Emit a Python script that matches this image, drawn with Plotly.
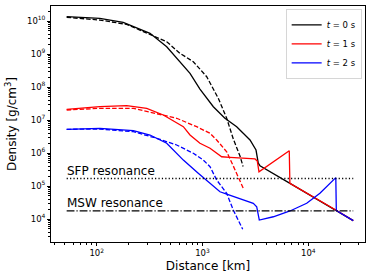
import math
import plotly.graph_objects as go

# ---- data (distance in km, density in g/cm^3) ----
x_t0 = [52, 107, 178, 319, 459, 612, 762, 946, 1266, 1629, 2104, 2812, 3205, 3367, 3493, 6712, 18550, 26600]
y_t0 = [1.35e10, 1.21e10, 9.1e9, 4.24e9, 1.66e9, 5.85e8, 2.60e8, 8.69e7, 2.53e7, 1.13e7, 6.27e6, 2.48e6,
        1.23e6, 4.9e5, 4.12e5, 1.2e5, 1.81e4, 8.9e3]
x_t0_dash = [52, 107, 192, 319, 459, 612, 819, 1096, 1410, 1693, 1955, 2261, 2420]
y_t0_dash = [1.29e10, 1.07e10, 7.9e9, 3.95e9, 2.36e9, 1.05e9, 5.85e8, 2.05e8, 4.55e7, 1.13e7, 2.66e6, 8.1e5, 3.9e5]

x_t1 = [52, 107, 192, 297, 426, 659, 762, 946, 1178, 1518, 1819, 2261, 3134, 3296, 3418, 6610, 6700, 18550, 26600]
y_t1 = [2.11e7, 2.53e7, 2.71e7, 2.26e7, 1.42e7, 6.27e6, 3.51e6, 1.97e6, 1.39e6, 7.7e5, 7.4e5, 7.2e5,
        6.6e5, 5.7e5, 2.7e5, 1.17e6, 1.2e5, 1.81e4, 8.9e3]
x_t1_dash = [52, 107, 222, 369, 570, 881, 1178, 1361, 1693, 1955, 2180, 2430]
y_t1_dash = [2.01e7, 2.26e7, 2.26e7, 1.60e7, 1.13e7, 6.27e6, 3.95e6, 2.48e6, 1.09e6, 4.03e5, 1.91e5, 8.5e4]

x_t2 = [52, 107, 222, 319, 459, 659, 906, 1178, 1463, 1693, 2261, 3020, 3253, 3443, 4670, 6712, 9660,
        12880, 18200, 18400, 26600]
y_t2 = [5.22e6, 5.6e6, 4.74e6, 3.51e6, 1.97e6, 6.1e5, 2.48e5, 1.21e5, 6.7e4, 5.7e4, 4.24e4, 2.99e4,
        2.36e4, 9.3e3, 1.17e4, 1.75e4, 2.99e4, 6.0e4, 1.79e5, 1.81e4, 8.9e3]
x_t2_dash = [52, 107, 222, 369, 570, 819, 1018, 1178, 1361, 1693, 1955, 2180, 2397]
y_t2_dash = [5.22e6, 5.33e6, 4.42e6, 2.79e6, 1.75e6, 9.8e5, 6.1e5, 3.85e5, 1.52e5, 6.0e4, 1.87e4, 9.3e3, 4.9e3]

res_x = [52, 26600]
sfp_density = 1.69e5
msw_density = 1.77e4

series_labels = ["<i>t</i> = 0 s", "<i>t</i> = 1 s", "<i>t</i> = 2 s"]
series_colors = ["#000000", "#ff0000", "#0000ff"]

x_tickvals = [1e2, 1e3, 1e4]
x_ticktext = ["10<sup>2</sup>", "10<sup>3</sup>", "10<sup>4</sup>"]
y_tickvals = [1e4, 1e5, 1e6, 1e7, 1e8, 1e9, 1e10]
y_ticktext = ["10<sup>4</sup>", "10<sup>5</sup>", "10<sup>6</sup>", "10<sup>7</sup>",
              "10<sup>8</sup>", "10<sup>9</sup>", "10<sup>10</sup>"]

FONT = "DejaVu Sans"
LW = 1.3
DASH = "4.5px,2px"

fig = go.Figure()
solids = [(x_t0, y_t0), (x_t1, y_t1), (x_t2, y_t2)]
dashes = [(x_t0_dash, y_t0_dash), (x_t1_dash, y_t1_dash), (x_t2_dash, y_t2_dash)]
for (xs, ys), (xd, yd), lab, col in zip(solids, dashes, series_labels, series_colors):
    fig.add_trace(go.Scatter(x=xs, y=ys, mode="lines", name=lab,
                             line=dict(color=col, width=LW)))
    fig.add_trace(go.Scatter(x=xd, y=yd, mode="lines", showlegend=False,
                             line=dict(color=col, width=LW, dash=DASH)))

fig.add_trace(go.Scatter(x=res_x, y=[sfp_density] * 2, mode="lines", showlegend=False,
                         line=dict(color="black", width=LW, dash="1.2px,2.2px")))
fig.add_trace(go.Scatter(x=res_x, y=[msw_density] * 2, mode="lines", showlegend=False,
                         line=dict(color="black", width=LW, dash="7.8px,2px,1.2px,2px")))

fig.add_annotation(x=math.log10(52), y=5.44, xref="x", yref="y", text="SFP resonance",
                   showarrow=False, xanchor="left", yanchor="middle", xshift=-2,
                   font=dict(family=FONT, size=12, color="black"))
fig.add_annotation(x=math.log10(52), y=4.49, xref="x", yref="y", text="MSW resonance",
                   showarrow=False, xanchor="left", yanchor="middle", xshift=-2,
                   font=dict(family=FONT, size=12, color="black"))

x_minor = [m * 10 ** e for e in range(1, 5) for m in range(2, 10) if 37 < m * 10 ** e < 34000]
y_minor = [m * 10 ** e for e in range(3, 11) for m in range(2, 10) if 2000 < m * 10 ** e < 2.8e10]

axis_common = dict(type="log", showline=True, linecolor="black", linewidth=0.8, mirror=True,
                   ticks="outside", ticklen=3, tickwidth=0.8, tickcolor="black",
                   showgrid=False, zeroline=False,
                   tickfont=dict(family=FONT, size=8.5, color="black"))

fig.update_xaxes(**axis_common, range=[1.568, 4.536], tickmode="array",
                 tickvals=x_tickvals, ticktext=x_ticktext,
                 minor=dict(tickmode="array", tickvals=x_minor, ticks="outside", ticklen=1.8,
                            tickwidth=0.6, tickcolor="black", showgrid=False),
                 title=dict(text="Distance [km]", standoff=4,
                            font=dict(family=FONT, size=12, color="black")))
fig.update_yaxes(**axis_common, range=[3.303, 10.455], tickmode="array",
                 tickvals=y_tickvals, ticktext=y_ticktext,
                 minor=dict(tickmode="array", tickvals=y_minor, ticks="outside", ticklen=1.8,
                            tickwidth=0.6, tickcolor="black", showgrid=False),
                 title=dict(text="Density [g/cm<sup>3</sup>]", standoff=7,
                            font=dict(family=FONT, size=12, color="black")))

fig.update_layout(width=373, height=280, margin=dict(l=51, r=8, t=6, b=38, autoexpand=False),
                  paper_bgcolor="white", plot_bgcolor="white",
                  font=dict(family=FONT, color="black"),
                  legend=dict(x=0.99, y=0.985, xanchor="right", yanchor="top",
                              bgcolor="white", bordercolor="#cccccc", borderwidth=0.8,
                              font=dict(family=FONT, size=8.5, color="black"),
                              tracegroupgap=0, itemwidth=30))

fig.write_html("out.html", config={"displayModeBar": False},
               post_script="document.body.style.margin='0';document.body.style.overflow='hidden';")
